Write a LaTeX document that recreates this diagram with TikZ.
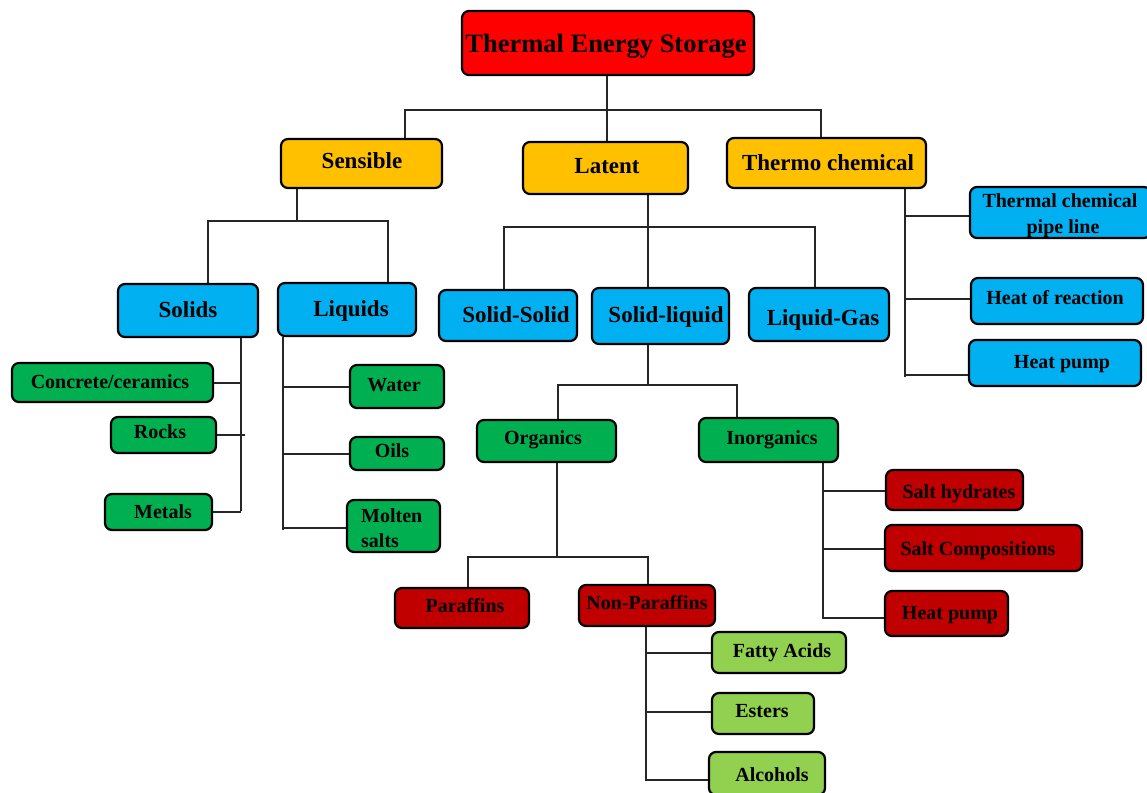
\documentclass[tikz,border=0pt]{standalone}
\usepackage{fontspec}
\setmainfont{Liberation Serif}
\definecolor{cTop}{HTML}{FF0000}
\definecolor{cOrange}{HTML}{FFC000}
\definecolor{cBlue}{HTML}{00B0F0}
\definecolor{cGreen}{HTML}{00B050}
\definecolor{cDred}{HTML}{C00000}
\definecolor{cLgreen}{HTML}{92D050}
% box: name, x1, y1, x2, y2, fill
\newcommand\tbox[6]{\node[box, fill=#6, minimum width={#4-#2-2}, minimum height={#5-#3-2}] (#1) at ({(#2+#4)/2},{(#3+#5)/2}) {};}
% label: name, x, y, size, text  (node centre sits on the middle of the capitals)
\newcommand\tlbl[5]{\node[lbl, font=\bfseries\fontsize{#4}{#4}\selectfont, text height={0.66*#4}] (#1) at (#2,#3) {#5};}
\begin{document}
\begin{tikzpicture}[x=1pt,y=-1pt,
  box/.style={draw=black, line width=2.2pt, rounded corners=7pt, inner sep=0pt},
  conn/.style={draw=black!85, line width=2pt},
  lbl/.style={inner sep=0pt, text depth=0pt}]
\useasboundingbox (0,0) rectangle (1147,792);

% ---- boxes ----
\tbox{tes}{461}{10}{755}{76}{cTop}
\tbox{sens}{280}{138}{443}{189}{cOrange}
\tbox{lat}{522}{141}{689}{195}{cOrange}
\tbox{thc}{726}{137}{927}{189}{cOrange}
\tbox{sol}{117}{283}{259}{338}{cBlue}
\tbox{liq}{277}{282}{417}{337}{cBlue}
\tbox{ss}{438}{289}{578}{342}{cBlue}
\tbox{sl}{591}{287}{730}{345}{cBlue}
\tbox{lg}{748}{287}{890}{342}{cBlue}
\tbox{pipe}{969}{186}{1152}{239}{cBlue}
\tbox{hor}{970}{277}{1144}{325}{cBlue}
\tbox{hpb}{968}{339}{1142}{387}{cBlue}
\tbox{conc}{11}{362}{214}{403}{cGreen}
\tbox{rocks}{110}{416}{217}{454}{cGreen}
\tbox{metals}{104}{493}{213}{531}{cGreen}
\tbox{water}{349}{364}{445}{409}{cGreen}
\tbox{oils}{349}{436}{445}{471}{cGreen}
\tbox{molten}{346}{499}{441}{553}{cGreen}
\tbox{org}{476}{419}{617}{463}{cGreen}
\tbox{inorg}{698}{417}{839}{463}{cGreen}
\tbox{par}{394}{587}{530}{629}{cDred}
\tbox{npar}{578}{584}{716}{627}{cDred}
\tbox{shyd}{885}{469}{1024}{511}{cDred}
\tbox{scomp}{884}{524}{1083}{572}{cDred}
\tbox{hpr}{884}{590}{1009}{637}{cDred}
\tbox{fatty}{711}{631}{847}{674}{cLgreen}
\tbox{esters}{711}{692}{815}{735}{cLgreen}
\tbox{alc}{708}{751}{826}{796}{cLgreen}

% ---- labels ----
\tlbl{tes-t}{606}{43.5}{26.5}{Thermal Energy Storage}
\tlbl{sens-t}{362}{161}{23}{Sensible}
\tlbl{lat-t}{607}{166}{23}{Latent}
\tlbl{thc-t}{828}{162.5}{23}{Thermo chemical}
\tlbl{sol-t}{188}{310}{23}{Solids}
\tlbl{liq-t}{351}{309}{23}{Liquids}
\tlbl{ss-t}{516}{315}{23}{Solid-Solid}
\tlbl{sl-t}{666}{315}{23}{Solid-liquid}
\tlbl{lg-t}{823}{318}{23}{Liquid-Gas}
\tlbl{pipe-t1}{1060}{201}{20}{Thermal chemical}
\tlbl{pipe-t2}{1063}{226.5}{20}{pipe line}
\tlbl{hor-t}{1055}{298}{20}{Heat of reaction}
\tlbl{hpb-t}{1062}{362}{20}{Heat pump}
\tlbl{conc-t}{110}{382}{20}{Concrete/ceramics}
\tlbl{rocks-t}{160}{432}{20}{Rocks}
\tlbl{metals-t}{163}{512}{20}{Metals}
\tlbl{water-t}{394}{384.5}{20}{Water}
\tlbl{oils-t}{392}{451}{20}{Oils}
\node[lbl, anchor=west, font=\bfseries\fontsize{20}{20}\selectfont, text height=13.2] (molten-t1) at (361,515.5) {Molten};
\node[lbl, anchor=west, font=\bfseries\fontsize{20}{20}\selectfont, text height=13.2] (molten-t2) at (361,541) {salts};
\tlbl{org-t}{543}{438}{20}{Organics}
\tlbl{inorg-t}{772}{438}{20}{Inorganics}
\tlbl{par-t}{465}{605.5}{20}{Paraffins}
\tlbl{npar-t}{647}{603}{20}{Non-Paraffins}
\tlbl{shyd-t}{959}{491.5}{20}{Salt hydrates}
\tlbl{scomp-t}{978}{549}{20}{Salt Compositions}
\tlbl{hpr-t}{950}{613}{20}{Heat pump}
\tlbl{fatty-t}{782}{651}{20}{Fatty Acids}
\tlbl{esters-t}{762}{711}{20}{Esters}
\tlbl{alc-t}{772}{774.5}{20}{Alcohols}

% ---- connectors ----
% main categories
\coordinate (j0) at (607,110);
\draw[conn] (tes.south -| 607,0) -- (j0);
\draw[conn] (sens.north -| 405,0) |- (821,110) -- (thc.north -| 821,0);
\draw[conn] (j0) -- (lat.north -| 607,0);

% sensible
\coordinate (j1) at (297,221);
\draw[conn] (sens.south -| 297,0) -- (j1);
\draw[conn] (sol.north -| 208,0) |- (388,221) -- (liq.north -| 388,0);

% solids
\draw[conn] (sol.south -| 241,0) -- (241,511);
\draw[conn] (conc.east) -- (conc.east -| 241,0);
\draw[conn] (rocks.east) -- (rocks.east -| 245,0);
\draw[conn] (metals.east) -- (metals.east -| 241,0);

% liquids
\draw[conn] (liq.south -| 283,0) -- (283,530);
\draw[conn] (water.west -| 283,0) -- (water.west);
\draw[conn] (oils.west -| 283,0) -- (oils.west);
\draw[conn] (283,528) -- (molten.west |- 0,528);

% latent
\coordinate (j2) at (648,227);
\draw[conn] (lat.south -| 648,0) -- (j2);
\draw[conn] (ss.north -| 504,0) |- (815,227) -- (lg.north -| 815,0);
\draw[conn] (j2) -- (sl.north -| 648,0);

% thermo chemical
\draw[conn] (thc.south -| 905,0) -- (905,377);
\draw[conn] (905,216) -- (pipe.west |- 0,216);
\draw[conn] (905,299) -- (hor.west |- 0,299);
\draw[conn] (905,375) -- (hpb.west |- 0,375);

% solid-liquid
\coordinate (j3) at (648,385);
\draw[conn] (sl.south -| 648,0) -- (j3);
\draw[conn] (org.north -| 558,0) |- (737,385) -- (inorg.north -| 737,0);

% organics
\coordinate (j4) at (557,557);
\draw[conn] (org.south -| 557,0) -- (j4);
\draw[conn] (par.north -| 468,0) |- (648,557) -- (npar.north -| 648,0);

% inorganics
\draw[conn] (inorg.south -| 823,0) -- (823,619);
\draw[conn] (823,491) -- (shyd.west |- 0,491);
\draw[conn] (823,549) -- (scomp.west |- 0,549);
\draw[conn] (823,618) -- (hpr.west |- 0,618);

% non-paraffins
\draw[conn] (npar.south -| 646,0) -- (646,781);
\draw[conn] (646,653) -- (fatty.west |- 0,653);
\draw[conn] (646,712) -- (esters.west |- 0,712);
\draw[conn] (646,780) -- (alc.west |- 0,780);
\end{tikzpicture}
\end{document}
